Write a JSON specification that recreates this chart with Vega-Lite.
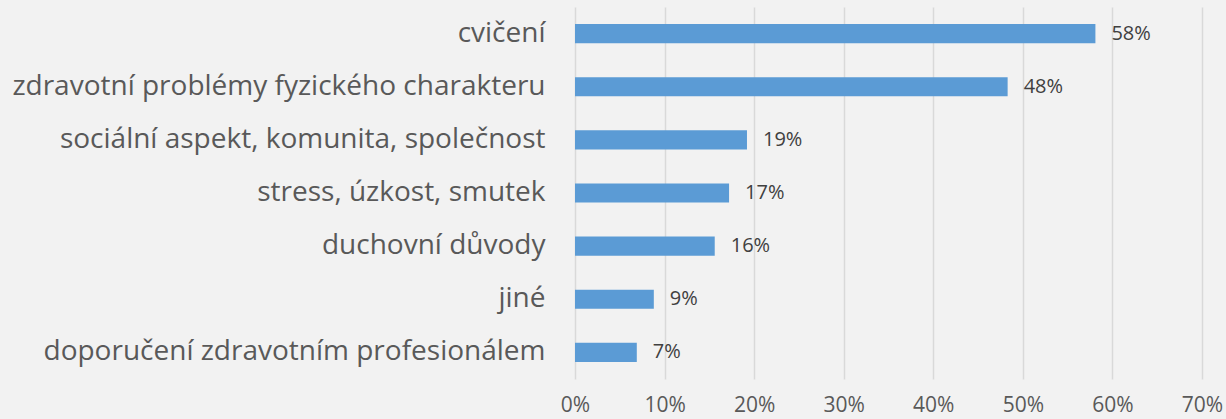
{
  "$schema": "https://vega.github.io/schema/vega-lite/v6.json",
  "autosize": "none",
  "width": 627,
  "height": 372,
  "padding": {"left": 575, "top": 7, "right": 24, "bottom": 40},
  "background": "#f2f2f2",
  "config": {"view": {"stroke": null}, "font": "Open Sans"},
  "data": {"values": [
    {"kategorie": "cvičení", "podil": 0.581},
    {"kategorie": "zdravotní problémy fyzického charakteru", "podil": 0.483},
    {"kategorie": "sociální aspekt, komunita, společnost", "podil": 0.192},
    {"kategorie": "stress, úzkost, smutek", "podil": 0.172},
    {"kategorie": "duchovní důvody", "podil": 0.156},
    {"kategorie": "jiné", "podil": 0.088},
    {"kategorie": "doporučení zdravotním profesionálem", "podil": 0.069}
  ]},
  "encoding": {
    "y": {"field": "kategorie", "type": "nominal", "sort": null, "title": null,
      "scale": {"paddingInner": 0.64, "paddingOuter": 0.32},
      "axis": {"domain": false, "ticks": false, "grid": false, "labelFontSize": 28, "labelColor": "#595959", "labelPadding": 30, "labelLimit": 700}},
    "x": {"field": "podil", "type": "quantitative", "title": null,
      "scale": {"domain": [0, 0.7], "nice": false},
      "axis": {"format": ".0%", "values": [0, 0.1, 0.2, 0.3, 0.4, 0.5, 0.6, 0.7], "domain": false, "ticks": false, "grid": true, "gridColor": "#d9d9d9", "gridWidth": 1.5, "labelFontSize": 21, "labelColor": "#595959", "labelPadding": 15, "labelFlush": false, "labelOverlap": false}}
  },
  "layer": [
    {"mark": {"type": "bar", "color": "#5b9bd5"}},
    {"mark": {"type": "text", "align": "left", "dx": 16, "fontSize": 20, "color": "#404040"},
     "encoding": {"text": {"field": "podil", "type": "quantitative", "format": ".0%"}}}
  ]
}
